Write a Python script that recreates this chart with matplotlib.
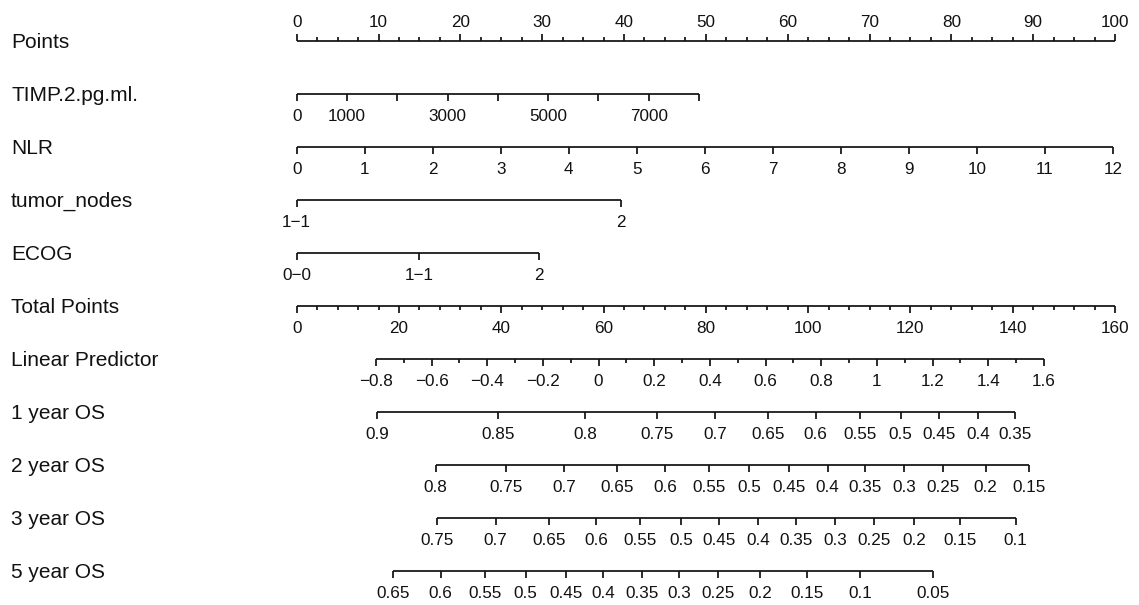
import numpy as np
import matplotlib
matplotlib.use('Agg')
import matplotlib.pyplot as plt
import matplotlib.transforms as mtransforms

plt.rcParams['font.family'] = ['Liberation Sans', 'DejaVu Sans']

# ---- data (positions are in "Points" units 0-100, or Total Points 0-160) ----
row_names = ["Points", "TIMP.2.pg.ml.", "NLR", "tumor_nodes", "ECOG", "Total Points",
             "Linear Predictor", "1 year OS", "2 year OS", "3 year OS", "5 year OS"]

points_ticks = np.arange(0, 100.1, 2.5)
points_labels = [0, 10, 20, 30, 40, 50, 60, 70, 80, 90, 100]

timp_values = [0, 1000, 2000, 3000, 4000, 5000, 6000, 7000, 8000]
timp_points = [0, 6.15, 12.29, 18.44, 24.58, 30.73, 36.87, 43.02, 49.16]
timp_labels = ["0", "1000", "", "3000", "", "5000", "", "7000", ""]

nlr_values = [0, 1, 2, 3, 4, 5, 6, 7, 8, 9, 10, 11, 12]
nlr_points = [0, 8.31, 16.63, 24.94, 33.25, 41.57, 49.88, 58.19, 66.51, 74.82, 83.13, 91.45, 99.76]

tumor_labels = ["1\u22121", "2"]
tumor_points = [0, 39.63]

ecog_labels = ["0\u22120", "1\u22121", "2"]
ecog_points = [0, 14.98, 29.65]

total_max = 160
total_ticks = np.arange(0, 160.1, 4)
total_labels = [0, 20, 40, 60, 80, 100, 120, 140, 160]

lp_min, lp_max = -0.8, 1.6
lp_tp_min, lp_tp_max = 15.5, 146.1   # total points at lp_min / lp_max

os1_values = [0.9, 0.85, 0.8, 0.75, 0.7, 0.65, 0.6, 0.55, 0.5, 0.45, 0.4, 0.35]
os1_tp = [15.76, 39.30, 56.37, 70.39, 81.79, 92.21, 101.48, 110.14, 118.10, 125.65, 133.27, 140.45]

os2_values = [0.8, 0.75, 0.7, 0.65, 0.6, 0.55, 0.5, 0.45, 0.4, 0.35, 0.3, 0.25, 0.2, 0.15]
os2_tp = [27.18, 40.93, 52.32, 62.57, 72.01, 80.68, 88.50, 96.32, 103.83, 111.12, 118.75, 126.31, 134.72, 143.25]

os3_values = [0.75, 0.7, 0.65, 0.6, 0.55, 0.5, 0.45, 0.4, 0.35, 0.3, 0.25, 0.2, 0.15, 0.1]
os3_tp = [27.49, 38.91, 49.33, 58.52, 67.13, 75.14, 82.63, 90.26, 97.63, 105.25, 112.88, 120.70, 129.70, 140.59]

os5_values = [0.65, 0.6, 0.55, 0.5, 0.45, 0.4, 0.35, 0.3, 0.25, 0.2, 0.15, 0.1, 0.05]
os5_tp = [18.89, 28.16, 36.82, 44.78, 52.66, 59.95, 67.58, 74.81, 82.44, 90.59, 99.72, 110.14, 124.47]


def fmt(v):
    v = round(float(v), 4) + 0.0
    if v == 0:
        v = 0.0
    s = '%g' % v
    return s.replace('-', '\u2212')


def tp2pts(tp):
    return np.asarray(tp, dtype=float) * 100.0 / total_max


fig = plt.figure(figsize=(11.39, 6.05), dpi=100)
ax = fig.add_axes([0, 0, 1, 1])
px_per_pt = 8.183
ax.set_xlim(-296.7 / px_per_pt, (1139 - 296.7) / px_per_pt)
ax.set_ylim(605, 0)
ax.axis('off')

LW = 1.25
COL = '#111111'
TFS = 12.3
RFS = 15
row_y = [40.5 + 53.05 * i for i in range(len(row_names))]
lab_tr = mtransforms.blended_transform_factory(ax.transAxes, ax.transData)


def draw_row(y, xs, labels, major, up=False):
    xs = np.asarray(xs, dtype=float)
    ax.plot([xs.min(), xs.max()], [y, y], color=COL, lw=LW, solid_capstyle='butt')
    sgn = -1 if up else 1
    for x, lab, mj in zip(xs, labels, major):
        ln = 7 if mj else 4
        ax.plot([x, x], [y, y + sgn * ln], color=COL, lw=LW, solid_capstyle='butt')
        if lab != "":
            ty = y - 13.5 if up else y + 27.5
            ax.text(x, ty, lab, ha='center', va='baseline', fontsize=TFS, color=COL)


for name, y in zip(row_names, row_y):
    ax.text(11 / 1139, y + 7.5, name, transform=lab_tr, ha='left', va='baseline',
            fontsize=RFS, color=COL)

# Points
pl = [fmt(t) if t in points_labels else "" for t in points_ticks]
draw_row(row_y[0], points_ticks, pl, [t in points_labels for t in points_ticks], up=True)

# predictors
draw_row(row_y[1], timp_points, timp_labels, [True] * len(timp_points))
draw_row(row_y[2], nlr_points, [fmt(v) for v in nlr_values], [True] * len(nlr_points))
draw_row(row_y[3], tumor_points, tumor_labels, [True] * len(tumor_points))
draw_row(row_y[4], ecog_points, ecog_labels, [True] * len(ecog_points))

# Total points
tl = [fmt(t) if t in total_labels else "" for t in total_ticks]
draw_row(row_y[5], tp2pts(total_ticks), tl, [t in total_labels for t in total_ticks])

# Linear predictor
lp_ticks = np.round(np.arange(lp_min, lp_max + 0.001, 0.1), 1)
lp_tp = lp_tp_min + (lp_ticks - lp_min) * (lp_tp_max - lp_tp_min) / (lp_max - lp_min)
lp_major = [abs(round(v * 10)) % 2 == 0 for v in lp_ticks]
lp_lab = [fmt(v) if m else "" for v, m in zip(lp_ticks, lp_major)]
draw_row(row_y[6], tp2pts(lp_tp), lp_lab, lp_major)

# survival rows
for i, (vals, tps) in enumerate([(os1_values, os1_tp), (os2_values, os2_tp),
                                 (os3_values, os3_tp), (os5_values, os5_tp)]):
    draw_row(row_y[7 + i], tp2pts(tps), [fmt(v) for v in vals], [True] * len(vals))

fig.savefig('out.png', dpi=100, facecolor='white')
